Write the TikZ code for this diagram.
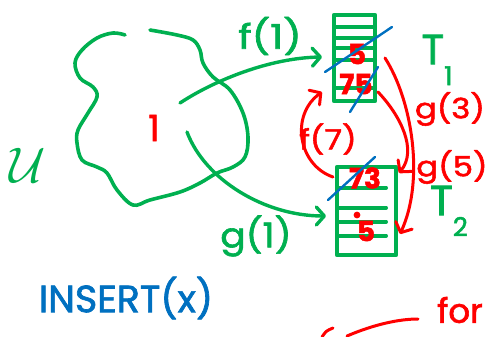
\documentclass[tikz,border=0pt]{standalone}
\usepackage{fontspec}
\setmainfont{Poppins}
\newfontfamily\penfont{Poppins}[FakeBold=1.8]
\usetikzlibrary{arrows.meta,calc}
\definecolor{pengreen}{HTML}{00B050}
\definecolor{penred}{HTML}{FF0000}
\definecolor{penblue}{HTML}{0070C0}
\tikzset{
  ink/.style={line cap=round,line join=round},
  gpen/.style={ink,draw=pengreen,line width=3.6pt},
  rpen/.style={ink,draw=penred,line width=3pt},
  bpen/.style={ink,draw=penblue,line width=2.4pt},
  barb/.style={-{Straight Barb[length=8pt,width=18pt,line cap=round,line join=round]}},
  lbl/.style={inner sep=0pt,font=\penfont\fontsize{#1}{#1}\selectfont},
  lbl/.default=26,
  entry/.style={inner sep=0pt,text=penred,font=\penfont\bfseries\fontsize{28}{28}\selectfont},
  tablebox/.style={draw=none,inner sep=0pt,minimum width=#1},
}
\newcommand{\lowsub}[1]{\raisebox{-0.5em}{\fontsize{26}{26}\selectfont #1}}
\begin{document}
\begin{tikzpicture}[x=1pt,y=-1pt]
\useasboundingbox (0,0) rectangle (493,337);

% the universe U
\draw[gpen] plot[smooth,tension=0.6] coordinates {(125,35) (113,33) (97,38) (82,50) (75,63) (80,78) (93,87) (97,97) (88,113) (78,130) (77,143) (82,160) (97,167) (107,173) (117,190) (133,205) (150,200) (180,192) (200,183) (217,173) (233,167) (245,157) (248,137) (243,113) (230,90) (213,77) (203,63) (200,50) (193,40) (177,35) (150,30)};
\node[text=pengreen,inner sep=0pt,scale=5] (U) at (28,165) {$\mathcal{U}$};
\node[lbl=36,text=penred] (one) at (154,128) {1};
\coordinate (src1) at (180,103);
\coordinate (src2) at (187,132);

% table T1
\node[tablebox=41,minimum height=86] (T1) at (354.5,58) {};
\draw[gpen] (T1.north west) -- (T1.north east) -- (T1.south east) -- (T1.south west) -- cycle;
\foreach \r in {12,23,33,45,73}
  \draw[gpen] ($(T1.north west)+(0,\r)$) -- ($(T1.north east)+(0,\r)$);
\node[entry] (t1a) at (357,54) {5};
\node[entry] (t1b) at (356,84) {75};
\draw[bpen] (325,72) -- (392,27);
\draw[bpen] (350,112) -- (378,67);
\node[lbl=42,text=pengreen] (T1lbl) at (437,60) {T\lowsub{1}};

% table T2
\node[tablebox=59,minimum height=88] (T2) at (366.5,211) {};
\draw[gpen] (T2.north west) -- (T2.north east) -- (T2.south east) -- (T2.south west) -- cycle;
\foreach \r in {21,41,55,69}
  \draw[gpen] ($(T2.north west)+(0,\r)$) -- ($(T2.north east)+(-10,\r)$);
\node[entry] (t2a) at (365,178) {73};
\fill[penred] (357,215) circle (3.4pt);
\node[entry] (t2b) at (366,231) {5};
\draw[bpen] (328,200) -- (375,157);
\node[lbl=42,text=pengreen] (T2lbl) at (449,211) {T\lowsub{2}};

% hash arrows from the universe
\coordinate (f1in) at (322,57);
\coordinate (g1in) at (326,216);
\draw[gpen,line width=3.4pt,barb] (src1) .. controls (215,80) and (270,58) .. (f1in);
\draw[gpen,line width=3.4pt,barb] (src2) .. controls (205,180) and (265,216) .. (g1in);
\node[lbl=34,text=pengreen,xscale=1.2] (f1lbl) at (270,36) {f(1)};
\node[lbl=34,text=pengreen,xscale=1.1] (g1lbl) at (256,236) {g(1)};

% moves between the tables
\coordinate (f7out) at (333,177);
\coordinate (f7in) at (322,92);
\draw[rpen,barb] (f7out) .. controls (298,165) and (290,115) .. (f7in);
\node[lbl=28,text=penred,xscale=1.15] (f7lbl) at (328,139) {f(7)};

\coordinate (g3out) at (385,58);
\coordinate (g3in) at (400,234);
\draw[rpen,barb] (g3out) .. controls (412,100) and (425,180) .. (g3in);
\node[lbl=28,text=penred,xscale=1.15] (g3lbl) at (450,109) {g(3)};

\coordinate (g5out) at (378,92);
\coordinate (g5in) at (399,173);
\draw[rpen,barb] (g5out) .. controls (400,115) and (418,150) .. (g5in);
\node[lbl=28,text=penred,xscale=1.15] (g5lbl) at (452,167) {g(5)};

% operation being traced
\node[lbl=38,text=penblue] (ins) at (126,298) {INSERT(x)};

% start of the next note
\draw[rpen] (333,328) .. controls (326,331) .. (322,337);
\draw[rpen] (347,336) .. controls (375,324) and (400,319) .. (418,319);
\node[lbl=34,text=penred,anchor=west] (fornote) at (437,310) {for};
\end{tikzpicture}
\end{document}
